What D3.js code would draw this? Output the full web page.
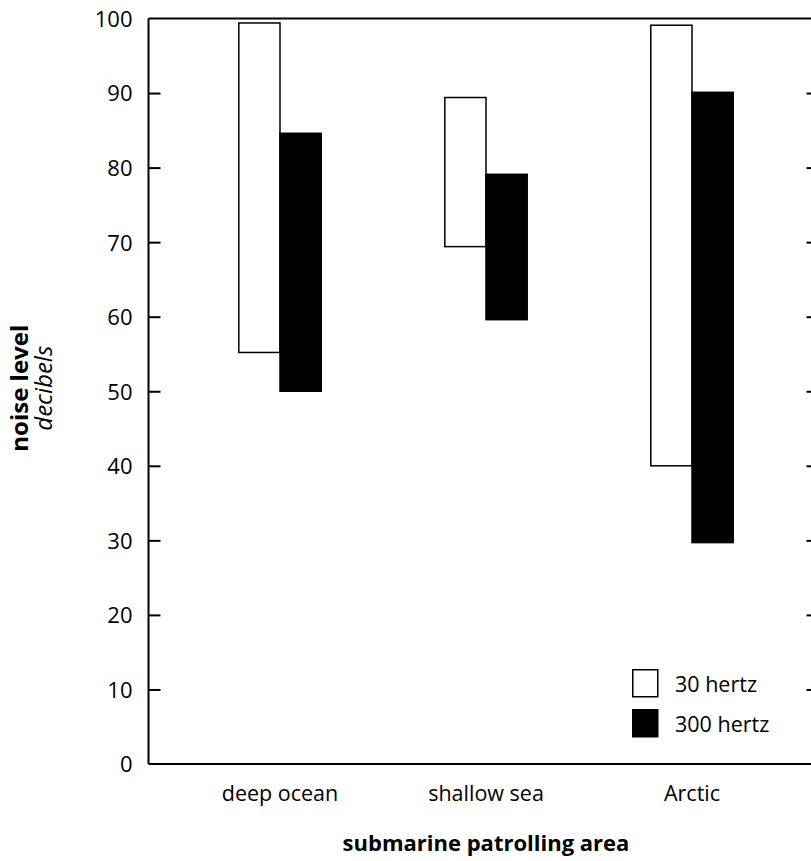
<!DOCTYPE html>
<html>
<head>
<meta charset="utf-8">
<script src="https://cdn.jsdelivr.net/npm/d3@7"></script>
<style>
  html, body { margin: 0; padding: 0; background: #fff; }
  svg { display: block; }
  text { font-family: "Open Sans", "Noto Sans", sans-serif; fill: #000; }
</style>
</head>
<body>
<script>
const categories = ["deep ocean", "shallow sea", "Arctic"];
const seriesNames = ["30 hertz", "300 hertz"];
const low30 = [55.2, 69.4, 40];
const high30 = [99.4, 89.4, 99.1];
const low300 = [50, 59.6, 29.7];
const high300 = [84.6, 79.1, 90.1];
const yTicks = [0, 10, 20, 30, 40, 50, 60, 70, 80, 90, 100];

(function () {
const W = 811, H = 861;
const svg = d3.select("body").append("svg").attr("width", W).attr("height", H);

const mLeft = 148.5, mRight = 818.5, mTop = 18.5, mBottom = 764;
const y = d3.scaleLinear().domain([0, 100]).range([mBottom, mTop]);
const x = d3.scaleBand().domain(categories).range([177, 795]).paddingInner(0.6).paddingOuter(0.3);
const xs = d3.scaleBand().domain(seriesNames).range([0, x.bandwidth()]);

// frame
const g = svg.append("g");
g.append("line").attr("x1", mLeft).attr("x2", W + 10).attr("y1", mTop).attr("y2", mTop)
  .attr("stroke", "#000").attr("stroke-width", 2);
g.append("line").attr("x1", mLeft).attr("x2", W + 10).attr("y1", mBottom).attr("y2", mBottom)
  .attr("stroke", "#000").attr("stroke-width", 2);

// left axis
const yAxis = d3.axisLeft(y).tickValues(yTicks).tickSize(-12).tickPadding(16).tickFormat(d3.format("d"));
const ax = svg.append("g").attr("transform", `translate(${mLeft},0)`).call(yAxis);
ax.select(".domain").attr("stroke-width", 2).attr("d", `M0,${mTop}V${mBottom}`);
ax.selectAll(".tick line").attr("stroke-width", 2).filter(d => d === 0 || d === 100).remove();
ax.selectAll(".tick text").attr("font-size", 22).attr("font-family", "Open Sans").attr("dy", "0.36em");

// right axis (cropped by the picture edge: only tick stubs show)
const yAxisR = d3.axisRight(y).tickValues(yTicks).tickSize(-12).tickFormat("");
const axR = svg.append("g").attr("transform", `translate(${mRight},0)`).call(yAxisR);
axR.select(".domain").remove();
axR.selectAll(".tick line").attr("stroke-width", 2).filter(d => d === 0 || d === 100).remove();

// bars
const rows = categories.map((c, i) => [
  { cat: c, s: seriesNames[0], lo: low30[i], hi: high30[i] },
  { cat: c, s: seriesNames[1], lo: low300[i], hi: high300[i] }
]).flat();

svg.append("g").selectAll("rect").data(rows).join("rect")
  .attr("x", d => x(d.cat) + xs(d.s))
  .attr("width", xs.bandwidth())
  .attr("y", d => y(d.hi))
  .attr("height", d => y(d.lo) - y(d.hi))
  .attr("fill", d => d.s === seriesNames[0] ? "#fff" : "#000")
  .attr("stroke", "#000")
  .attr("stroke-width", 1.5);

// category labels
svg.append("g").selectAll("text").data(categories).join("text")
  .attr("x", d => x(d) + x.bandwidth() / 2)
  .attr("y", 801)
  .attr("text-anchor", "middle")
  .attr("font-size", 21.5)
  .text(d => d);

// x title
svg.append("text").attr("x", 486).attr("y", 851).attr("text-anchor", "middle")
  .attr("font-size", 22).attr("font-weight", "bold").text("submarine patrolling area");

// y title
const yt = svg.append("g").attr("transform", `translate(28,${y(50) - 3}) rotate(-90)`);
yt.append("text").attr("text-anchor", "middle").attr("font-size", 24).attr("font-weight", "bold").text("noise level");
yt.append("text").attr("y", 24).attr("text-anchor", "middle").attr("font-size", 24).attr("font-style", "italic").text("decibels");

// legend
const leg = svg.append("g").attr("transform", "translate(632,669)");
seriesNames.forEach((s, i) => {
  const r = leg.append("g").attr("transform", `translate(0,${i * 40})`);
  r.append("rect").attr("x", 0.75).attr("y", 0.75).attr("width", 25).attr("height", 27)
    .attr("fill", i === 0 ? "#fff" : "#000").attr("stroke", "#000").attr("stroke-width", 1.5);
  r.append("text").attr("x", 43).attr("y", 23).attr("font-size", 21.5).text(s);
});
})();
</script>
</body>
</html>
